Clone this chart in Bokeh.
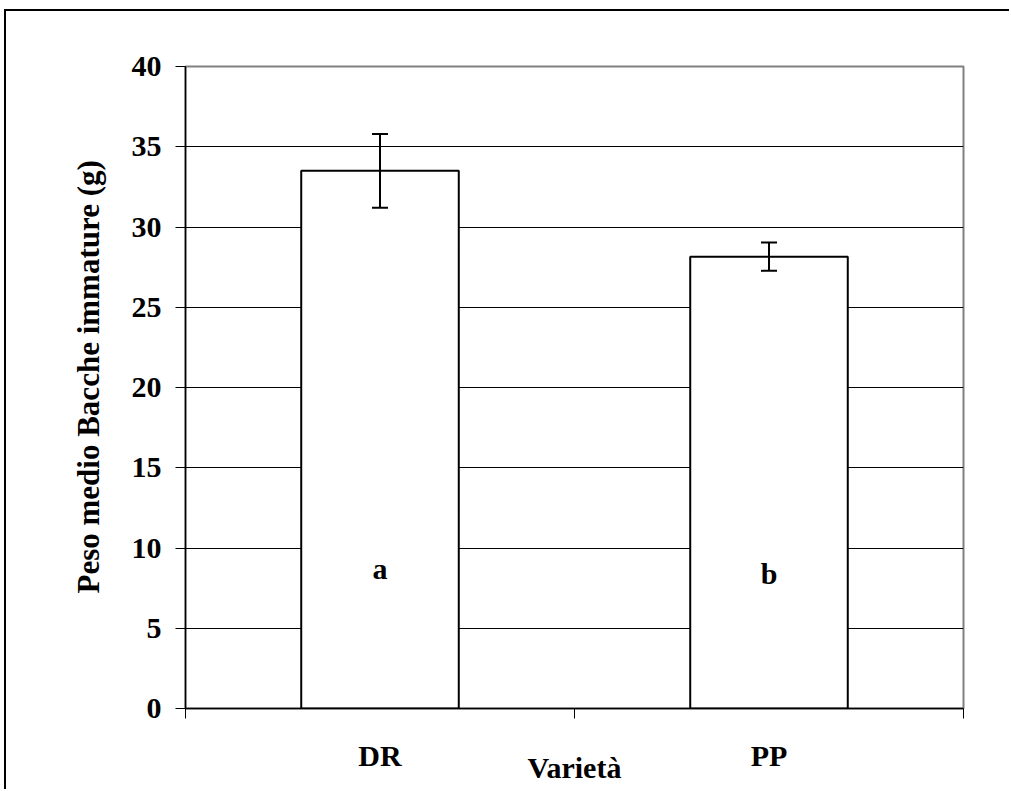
from bokeh.plotting import figure
from bokeh.models import (Range1d, FixedTicker, LinearAxis, Whisker,
                          ColumnDataSource, TeeHead, Title)
from bokeh.embed import file_html
from bokeh.resources import INLINE
from bokeh.core.properties import value

# Average weight of immature berries per variety (g), with error
varieties = ["DR", "PP"]
mean_weight = [33.5, 28.15]
error = [2.3, 0.88]
letters = ["a", "b"]
letter_y = [8.7, 8.4]
y_ticks = [0, 5, 10, 15, 20, 25, 30, 35, 40]
x_title = "Varietà"
y_title = "Peso medio Bacche immature (g)"

FONT = "Liberation Serif"
FS = "30px"
TITLE_FS = "31px"

centers = [i + 0.5 for i in range(len(varieties))]
src = ColumnDataSource(dict(
    x=centers,
    top=mean_weight,
    upper=[m + e for m, e in zip(mean_weight, error)],
    lower=[m - e for m, e in zip(mean_weight, error)],
    letter=letters,
    ly=letter_y,
))

p = figure(width=1005, height=780,
           x_range=Range1d(0, len(varieties)), y_range=Range1d(0, 40),
           x_axis_location=None,
           output_backend="svg", toolbar_location=None,
           min_border_left=179, min_border_right=48,
           min_border_top=55, min_border_bottom=60,
           background_fill_color="white", border_fill_color="white")

# page frame around the chart
p.styles = {"margin-left": "4px", "margin-top": "9px",
            "border-left": "2px solid black", "border-top": "2px solid black"}

p.outline_line_color = "#808080"
p.outline_line_width = 2

# grid
p.xgrid.grid_line_color = None
p.ygrid.grid_line_color = "black"
p.ygrid.grid_line_width = 1
p.ygrid.ticker = FixedTicker(ticks=y_ticks)

# y axis
p.yaxis.ticker = FixedTicker(ticks=y_ticks)
p.yaxis.axis_line_color = "black"
p.yaxis.axis_line_width = 1.5
p.yaxis.major_tick_in = 0
p.yaxis.major_tick_out = 10
p.yaxis.major_tick_line_color = "black"
p.yaxis.minor_tick_line_color = None
p.yaxis.major_label_standoff = 14
p.yaxis.major_label_text_font = FONT
p.yaxis.major_label_text_font_style = "bold"
p.yaxis.major_label_text_font_size = FS
p.yaxis.major_label_text_color = "black"

# y title, starting a little above the frame's bottom
p.add_layout(Title(text=y_title, align="left", offset=115, standoff=45,
                   text_font=FONT, text_font_style="bold",
                   text_font_size=TITLE_FS, text_color="black"), "left")

# x axis: tick marks at the category boundaries
edge_axis = LinearAxis(ticker=FixedTicker(ticks=list(range(len(varieties) + 1))),
                       major_label_text_font_size="0px", major_label_standoff=0,
                       axis_line_color="black", axis_line_width=1.5,
                       major_tick_in=0, major_tick_out=10,
                       major_tick_line_color="black", minor_tick_line_color=None)
p.add_layout(edge_axis, "below")

# x axis: category names and title
name_axis = LinearAxis(ticker=FixedTicker(ticks=centers),
                       major_label_overrides={c: n for c, n in zip(centers, varieties)},
                       axis_line_color=None, major_tick_line_color=None,
                       minor_tick_line_color=None, major_tick_in=0, major_tick_out=0,
                       major_label_standoff=20,
                       major_label_text_font=FONT, major_label_text_font_style="bold",
                       major_label_text_font_size=FS, major_label_text_color="black",
                       axis_label=x_title, axis_label_standoff=-24,
                       axis_label_text_font=FONT, axis_label_text_font_style="bold",
                       axis_label_text_font_size=FS, axis_label_text_color="black")
p.add_layout(name_axis, "below")

# empty strip under the axis title
spacer_axis = LinearAxis(ticker=FixedTicker(ticks=[1]),
                         major_label_text_font_size="0px", major_label_standoff=0,
                         axis_line_color=None, major_tick_line_color=None,
                         minor_tick_line_color=None, major_tick_in=0, major_tick_out=5)
p.add_layout(spacer_axis, "below")

# bars
p.vbar(x="x", top="top", bottom=0, width=0.405, source=src,
       fill_color="white", line_color="black", line_width=2)

# error bars
p.add_layout(Whisker(base="x", upper="upper", lower="lower", source=src,
                     line_color="black", line_width=2, level="overlay",
                     upper_head=TeeHead(size=16, line_width=2, line_color="black"),
                     lower_head=TeeHead(size=16, line_width=2, line_color="black")))

# significance letters
p.text(x="x", y="ly", text="letter", source=src, text_align="center",
       text_baseline="alphabetic", text_font=value(FONT),
       text_font_style="bold", text_font_size=FS, text_color="black")

open("out.html", "w").write(file_html(p, INLINE))
